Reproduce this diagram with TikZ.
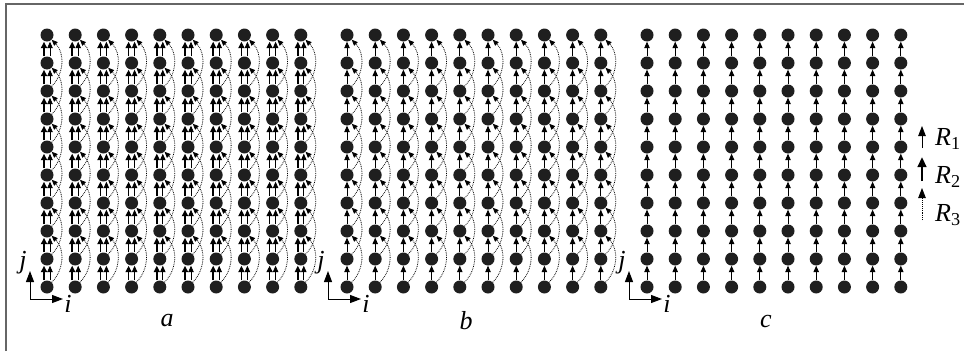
\documentclass[tikz,border=0pt]{standalone}
\usepackage{fontspec}
\setmainfont{Liberation Serif}
\usetikzlibrary{arrows.meta}
\begin{document}
\begin{tikzpicture}[x=1pt,y=1pt,
  dot/.style={circle,fill=black!88,inner sep=0pt,minimum size=13pt},
  rone/.style={line width=0.8pt,-{Triangle[length=6.5pt,width=5.5pt]}},
  rtwo/.style={line width=1.7pt,-{Triangle[length=6.5pt,width=6pt]}},
  rthree/.style={line width=0.8pt,densely dotted,-{Triangle[length=6pt,width=5pt]}},
  axarrow/.style={line width=1pt,-{Triangle[length=11pt,width=8pt]}},
  lab/.style={font=\fontsize{26}{28}\selectfont\itshape,inner sep=0pt},
  frame/.style={line width=1.2pt,black!60}]
\useasboundingbox (0,0) rectangle (964,-351);
\coordinate (fb) at (6,-351);
\coordinate (ftl) at (6,-4);
\coordinate (ftr) at (964,-4);
\draw[frame] (fb) -- (ftl) -- (ftr);
% nodes
\foreach \g/\gx in {a/47,b/347,c/647}{
  \foreach \c in {0,...,9}{
    \foreach \r in {0,...,9}{
      \node[dot] (\g-\c-\r) at ({\gx+\c*28.2},{\r*28-287}) {};
    }
  }
}
% group a: R1, R2, R3
\foreach \c in {0,...,9}{
  \foreach \r [evaluate=\r as \s using int(\r+1)] in {0,...,8}{
    \draw[rtwo] ([xshift=-3pt]a-\c-\r.north) -- ([xshift=-3pt]a-\c-\s.south);
    \draw[rone] ([xshift=3pt]a-\c-\r.north) -- ([xshift=3pt]a-\c-\s.south);
  }
  \foreach \r [evaluate=\r as \t using int(\r+2)] in {0,...,7}{
    \draw[rthree] (a-\c-\r) to[bend right=45] (a-\c-\t);
  }
}
% group b: R1, R3
\foreach \c in {0,...,9}{
  \foreach \r [evaluate=\r as \s using int(\r+1)] in {0,...,8}{
    \draw[rone] (b-\c-\r) -- (b-\c-\s);
  }
  \foreach \r [evaluate=\r as \t using int(\r+2)] in {0,...,7}{
    \draw[rthree] (b-\c-\r) to[bend right=45] (b-\c-\t);
  }
}
% group c: R1
\foreach \c in {0,...,9}{
  \foreach \r [evaluate=\r as \s using int(\r+1)] in {0,...,8}{
    \draw[rone] (c-\c-\r) -- (c-\c-\s);
  }
}
% axes
\foreach \g/\ox in {a/30,b/328,c/629}{
  \coordinate (\g-o) at (\ox,-299);
  \coordinate (\g-up) at (\ox,-271);
  \coordinate (\g-rt) at (\ox+33,-299);
  \draw[axarrow] (\g-o) -- (\g-up);
  \draw[axarrow] (\g-o) -- (\g-rt);
  \node[lab] (\g-j) at (\ox-7,-263) {j};
  \node[lab] (\g-i) at (\ox+38,-304) {i};
}
\node[lab] (la) at (167,-321) {a};
\node[lab] (lb) at (466,-321) {b};
\node[lab] (lc) at (766,-321) {c};
% legend
\coordinate (l1s) at (922,-148);
\coordinate (l1e) at (922,-126);
\coordinate (l2s) at (922,-181);
\coordinate (l2e) at (922,-157);
\coordinate (l3s) at (922,-220);
\coordinate (l3e) at (922,-188);
\draw[line width=0.9pt,-{Triangle[length=10pt,width=7.5pt]}] (l1s) -- (l1e);
\draw[line width=2.4pt,-{Triangle[length=10pt,width=8.5pt]}] (l2s) -- (l2e);
\draw[line width=0.9pt,densely dotted,-{Triangle[length=10pt,width=7.5pt]}] (l3s) -- (l3e);
\node[lab,anchor=west] (r1) at (935,-139) {R\textsubscript{\upshape 1}};
\node[lab,anchor=west] (r2) at (935,-177) {R\textsubscript{\upshape 2}};
\node[lab,anchor=west] (r3) at (935,-215) {R\textsubscript{\upshape 3}};
\end{tikzpicture}
\end{document}
